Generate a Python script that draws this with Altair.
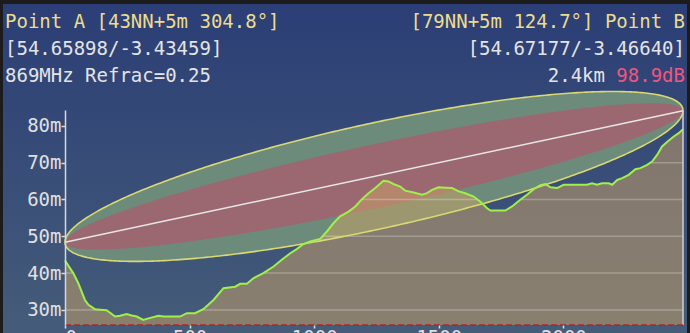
import altair as alt
import numpy as np
import pandas as pd

# ---- terrain profile (distance m, ground height m) ----
DIST = [0, 33, 53, 80, 94, 120, 154, 167, 201, 221, 248, 268, 288, 314, 335, 375, 395, 462,
        489, 522, 555, 596, 636, 683, 703, 730, 756, 796, 837, 870, 904, 930, 957, 984, 1024,
        1051, 1078, 1104, 1138, 1165, 1192, 1218, 1245, 1278, 1298, 1318, 1345, 1365, 1399,
        1433, 1453, 1473, 1499, 1526, 1553, 1580, 1606, 1640, 1667, 1694, 1707, 1767, 1794,
        1827, 1854, 1881, 1908, 1928, 1948, 1975, 2001, 2055, 2095, 2115, 2135, 2155, 2182,
        2196, 2216, 2236, 2262, 2289, 2309, 2336, 2356, 2376, 2396, 2417, 2443, 2463, 2480]
HEIGHT = [43.4, 40.0, 37.3, 32.7, 31.4, 30.2, 30.0, 29.9, 28.2, 28.4, 28.9, 28.5, 28.2, 27.3,
          27.7, 28.4, 28.2, 28.2, 29.1, 29.1, 30.2, 32.7, 35.9, 36.3, 37.1, 37.1, 38.6, 40.0,
          41.8, 43.6, 45.4, 46.5, 47.9, 48.6, 49.3, 51.3, 53.6, 55.4, 56.7, 58.1, 60.1, 61.7,
          63.1, 65.1, 64.9, 64.2, 63.5, 62.4, 61.9, 61.3, 61.7, 62.6, 63.3, 63.2, 63.1, 62.2,
          61.7, 60.8, 59.4, 57.6, 57.0, 57.0, 58.1, 59.9, 61.3, 62.8, 63.9, 64.2, 63.3, 63.1,
          64.0, 64.0, 64.0, 64.4, 64.0, 64.4, 64.4, 64.0, 65.3, 65.8, 66.7, 68.2, 68.5, 69.4,
          70.3, 72.1, 74.4, 75.7, 77.1, 78.0, 79.1]

MAST_A = 5
MAST_B = 5
FREQ_MHZ = 869
INNER_FRACTION = 0.6
Y_MIN, Y_MAX = 25.9, 84.3
X_TICKS = [0, 500, 1000, 1500, 2000]
Y_TICKS = [30, 40, 50, 60, 70, 80]

HEADER_LEFT = ["Point A [43NN+5m 304.8°]", "[54.65898/-3.43459]", "869MHz Refrac=0.25"]
HEADER_RIGHT = ["[79NN+5m 124.7°] Point B", "[54.67177/-3.46640]"]
DIST_TEXT = "2.4km"
LOSS_TEXT = "98.9dB"

W, H = 618, 215
D = DIST[-1]
hA = HEIGHT[0] + MAST_A
hB = HEIGHT[-1] + MAST_B

xs = alt.Scale(domain=[0, D], nice=False, zero=False)
ys = alt.Scale(domain=[Y_MIN, Y_MAX], nice=False, zero=False)

axis_font = "DejaVu Sans Mono"
AX_X = alt.Axis(values=X_TICKS, domain=False, grid=False, tickSize=3, tickWidth=1.5,
                tickColor="#e0e0e0", labelPadding=0, labelFont=axis_font,
                labelFontSize=19, labelColor="#e0e0e0", title=None, format="d", zindex=2)
AX_Y = alt.Axis(values=Y_TICKS, domain=True, domainColor="#d8d8d8", domainWidth=1.5,
                grid=False, tickSize=4, tickWidth=1.5, tickColor="#d8d8d8",
                labelPadding=0, labelFont=axis_font, labelFontSize=19,
                labelColor="#e0e0e0", title=None, labelExpr="datum.value + 'm'", zindex=2)


def X(f):
    return alt.X(f, scale=xs, axis=AX_X)


def Y(f):
    return alt.Y(f, scale=ys, axis=AX_Y)


terrain = pd.DataFrame({"d": DIST, "h": HEIGHT})

# Fresnel zone (derived from link geometry)
lam = 299.792458 / FREQ_MHZ
t = np.linspace(0, np.pi, 241)
dd = D * (1 - np.cos(t)) / 2
los = hA + (hB - hA) * dd / D
r = np.sqrt(np.clip(lam * dd * (D - dd) / D, 0, None))
zone = pd.DataFrame({"d": dd, "lo": los - r, "hi": los + r,
                     "ilo": los - INNER_FRACTION * r, "ihi": los + INNER_FRACTION * r})
outline = pd.DataFrame({
    "d": np.concatenate([dd, dd[::-1]]),
    "v": np.concatenate([los + r, (los - r)[::-1]]),
    "i": np.arange(2 * len(dd)),
})
los_df = pd.DataFrame({"d": [0, D], "v": [hA, hB]})

# gridline segments where terrain lies above each level
rows = []
for L in Y_TICKS:
    inside = HEIGHT[0] > L
    start = DIST[0]
    for i in range(len(DIST) - 1):
        d0, h0, d1, h1 = DIST[i], HEIGHT[i], DIST[i + 1], HEIGHT[i + 1]
        if (h0 > L) != (h1 > L):
            dc = d0 + (L - h0) / (h1 - h0) * (d1 - d0)
            if h1 > L:
                start = dc
                inside = True
            else:
                rows.append({"level": L, "x0": start, "x1": dc})
                inside = False
    if inside:
        rows.append({"level": L, "x0": start, "x1": DIST[-1]})
grid = pd.DataFrame(rows if rows else [{"level": 30, "x0": 0, "x1": 0}])

one = pd.DataFrame({"a": [0]})

bg = alt.Chart(one).mark_rect(
    color=alt.Gradient(gradient="linear", x1=0, x2=0, y1=0, y2=1,
                       stops=[alt.GradientStop(color="#2b3e76", offset=0),
                              alt.GradientStop(color="#455c79", offset=1)])
).encode(x=alt.value(-62), x2=alt.value(622), y=alt.value(-106), y2=alt.value(223))

outer = alt.Chart(zone).mark_area(color="#6d8b7b", opacity=1).encode(
    x=X("d:Q"), y=Y("lo:Q"), y2="hi:Q")
inner = alt.Chart(zone).mark_area(color="#9b6872", opacity=1).encode(
    x=X("d:Q"), y=Y("ilo:Q"), y2="ihi:Q")

terr_fill = alt.Chart(terrain).mark_area(color="#cea365", opacity=0.5).encode(
    x=X("d:Q"), y=Y("h:Q"), y2=alt.datum(Y_MIN))

grid_layer = alt.Chart(grid).mark_rule(color="white", opacity=0.25, strokeWidth=1.5).encode(
    x=X("x0:Q"), x2="x1:Q", y=Y("level:Q"))

zone_line = alt.Chart(outline).mark_line(color="#d9d872", strokeWidth=1.6).encode(
    x=X("d:Q"), y=Y("v:Q"), order="i:Q")

terr_line = alt.Chart(terrain).mark_line(color="#9ef04a", strokeWidth=2).encode(
    x=X("d:Q"), y=Y("h:Q"))

los_line = alt.Chart(los_df).mark_line(color="#e6e6e6", strokeWidth=1.5).encode(
    x=X("d:Q"), y=Y("v:Q"))

mast_b = alt.Chart(pd.DataFrame({"d": [D], "y0": [Y_MIN], "y1": [hB]})).mark_rule(
    color="#d0d0d0", strokeWidth=1.5).encode(
    x=X("d:Q"), y=Y("y0:Q"), y2="y1:Q")

base_line = alt.Chart(pd.DataFrame({"d0": [0], "d1": [D], "y": [Y_MIN]})).mark_rule(
    color="#b02626", strokeWidth=1.5, strokeDash=[6, 3]).encode(
    x=X("d0:Q"), x2="d1:Q", y=Y("y:Q"))


def txt(s, x, y, color, align):
    return alt.Chart(pd.DataFrame({"t": [s]})).mark_text(
        align=align, baseline="alphabetic", font="DejaVu Sans Mono", fontSize=19, color=color
    ).encode(x=alt.value(x), y=alt.value(y), text="t:N")


YEL = "#ecdc8c"
WHT = "#e4e4e4"
texts = [
    txt(HEADER_LEFT[0], -60, -82, YEL, "left"),
    txt(HEADER_LEFT[1], -60, -55, WHT, "left"),
    txt(HEADER_LEFT[2], -60, -28, WHT, "left"),
    txt(HEADER_RIGHT[0], 620, -82, YEL, "right"),
    txt(HEADER_RIGHT[1], 620, -55, WHT, "right"),
    txt(LOSS_TEXT, 620, -28, "#f0557f", "right"),
    txt(DIST_TEXT, 540, -28, WHT, "right"),
]

chart = alt.layer(bg, outer, inner, terr_fill, grid_layer, zone_line, terr_line, los_line,
                  mast_b, base_line, *texts).properties(
    width=W, height=H,
    autosize=alt.AutoSizeParams(type="none"),
    padding={"left": 65, "top": 110, "right": 7, "bottom": 8},
    background="#1c1c1c",
).configure_view(stroke=None)

chart.save("out.html", embed_options={"renderer": "svg", "actions": False})
